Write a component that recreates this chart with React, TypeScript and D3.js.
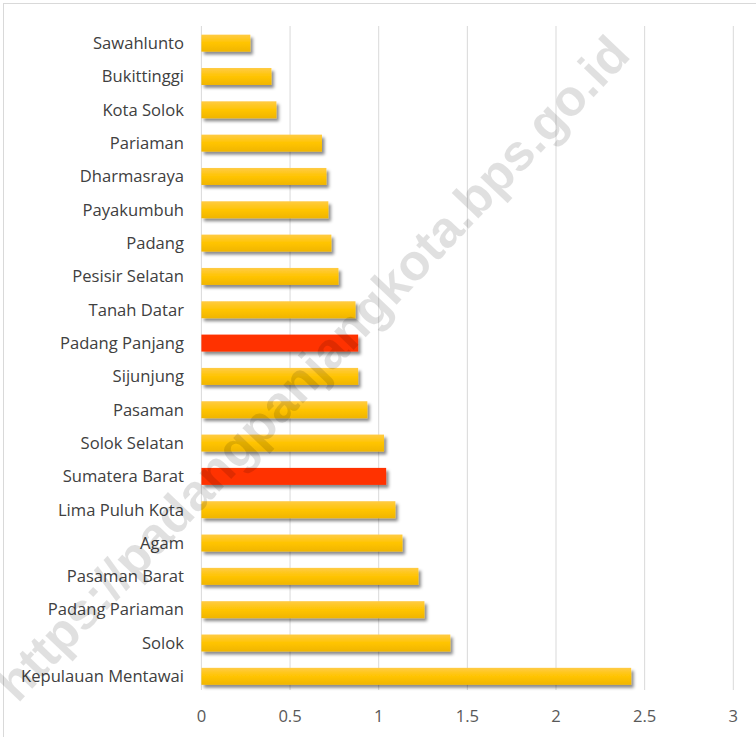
import React from "react";
import * as d3 from "d3";

const categories = [
  "Sawahlunto", "Bukittinggi", "Kota Solok", "Pariaman", "Dharmasraya", "Payakumbuh",
  "Padang", "Pesisir Selatan", "Tanah Datar", "Padang Panjang", "Sijunjung", "Pasaman",
  "Solok Selatan", "Sumatera Barat", "Lima Puluh Kota", "Agam", "Pasaman Barat",
  "Padang Pariaman", "Solok", "Kepulauan Mentawai",
];
const values = [
  0.276, 0.395, 0.423, 0.68, 0.705, 0.716, 0.733, 0.773, 0.869, 0.884, 0.884, 0.936,
  1.03, 1.042, 1.094, 1.134, 1.224, 1.258, 1.404, 2.424,
];
const highlighted = ["Padang Panjang", "Sumatera Barat"];
const tickValues = [0, 0.5, 1, 1.5, 2, 2.5, 3];

const W = 756;
const H = 737;

export default function App() {
  const x = d3.scaleLinear().domain([0, 3]).range([201.4, 733.3]);
  const y = d3.scaleBand<string>().domain(categories).range([26.5, 693]).paddingInner(0.49).paddingOuter(0.245);
  const font = "Open Sans, sans-serif";
  return (
    <svg width={W} height={H} style={{ position: "absolute", left: 0, top: 0, background: "#fff" }}>
      <defs>
        <linearGradient id="gold" x1="0" y1="0" x2="0" y2="1">
          <stop offset="0" stopColor="#FFCB45" />
          <stop offset="0.5" stopColor="#FFC400" />
          <stop offset="1" stopColor="#F0B500" />
        </linearGradient>
        <filter id="shadow" x="-10%" y="-50%" width="130%" height="250%">
          <feDropShadow dx="2.5" dy="3" stdDeviation="1.8" floodColor="#000" floodOpacity="0.45" />
        </filter>
      </defs>
      <rect x={3.5} y={3.5} width={W} height={H} fill="#fff" stroke="#d9d9d9" strokeWidth={1} />
      {tickValues.map((t) => (
        <line key={t} x1={x(t)} x2={x(t)} y1={26} y2={690} stroke="#d9d9d9" strokeWidth={1} />
      ))}
      {categories.map((c, i) => {
        const hl = highlighted.includes(c);
        return (
          <rect
            key={c}
            x={x(0)}
            y={y(c)}
            width={x(values[i]) - x(0)}
            height={y.bandwidth()}
            fill={hl ? "#FF3300" : "url(#gold)"}
            filter="url(#shadow)"
          />
        );
      })}
      {categories.map((c) => (
        <text
          key={c}
          x={184}
          y={(y(c) as number) + y.bandwidth() / 2}
          dy="0.35em"
          textAnchor="end"
          fontFamily={font}
          fontSize={16.6}
          fill="#404040"
        >
          {c}
        </text>
      ))}
      {tickValues.map((t) => (
        <text key={t} x={x(t)} y={722} textAnchor="middle" fontFamily={font} fontSize={16.6} fill="#595959">
          {String(t)}
        </text>
      ))}
      <text
        transform="translate(312,368) rotate(-46.5)"
        textAnchor="middle"
        dy="0.35em"
        fontFamily="Liberation Sans, Arial, sans-serif"
        fontWeight="bold"
        fontSize={51}
        fill="#000"
        fillOpacity={0.12}
      >
        https://padangpanjangkota.bps.go.id
      </text>
    </svg>
  );
}
